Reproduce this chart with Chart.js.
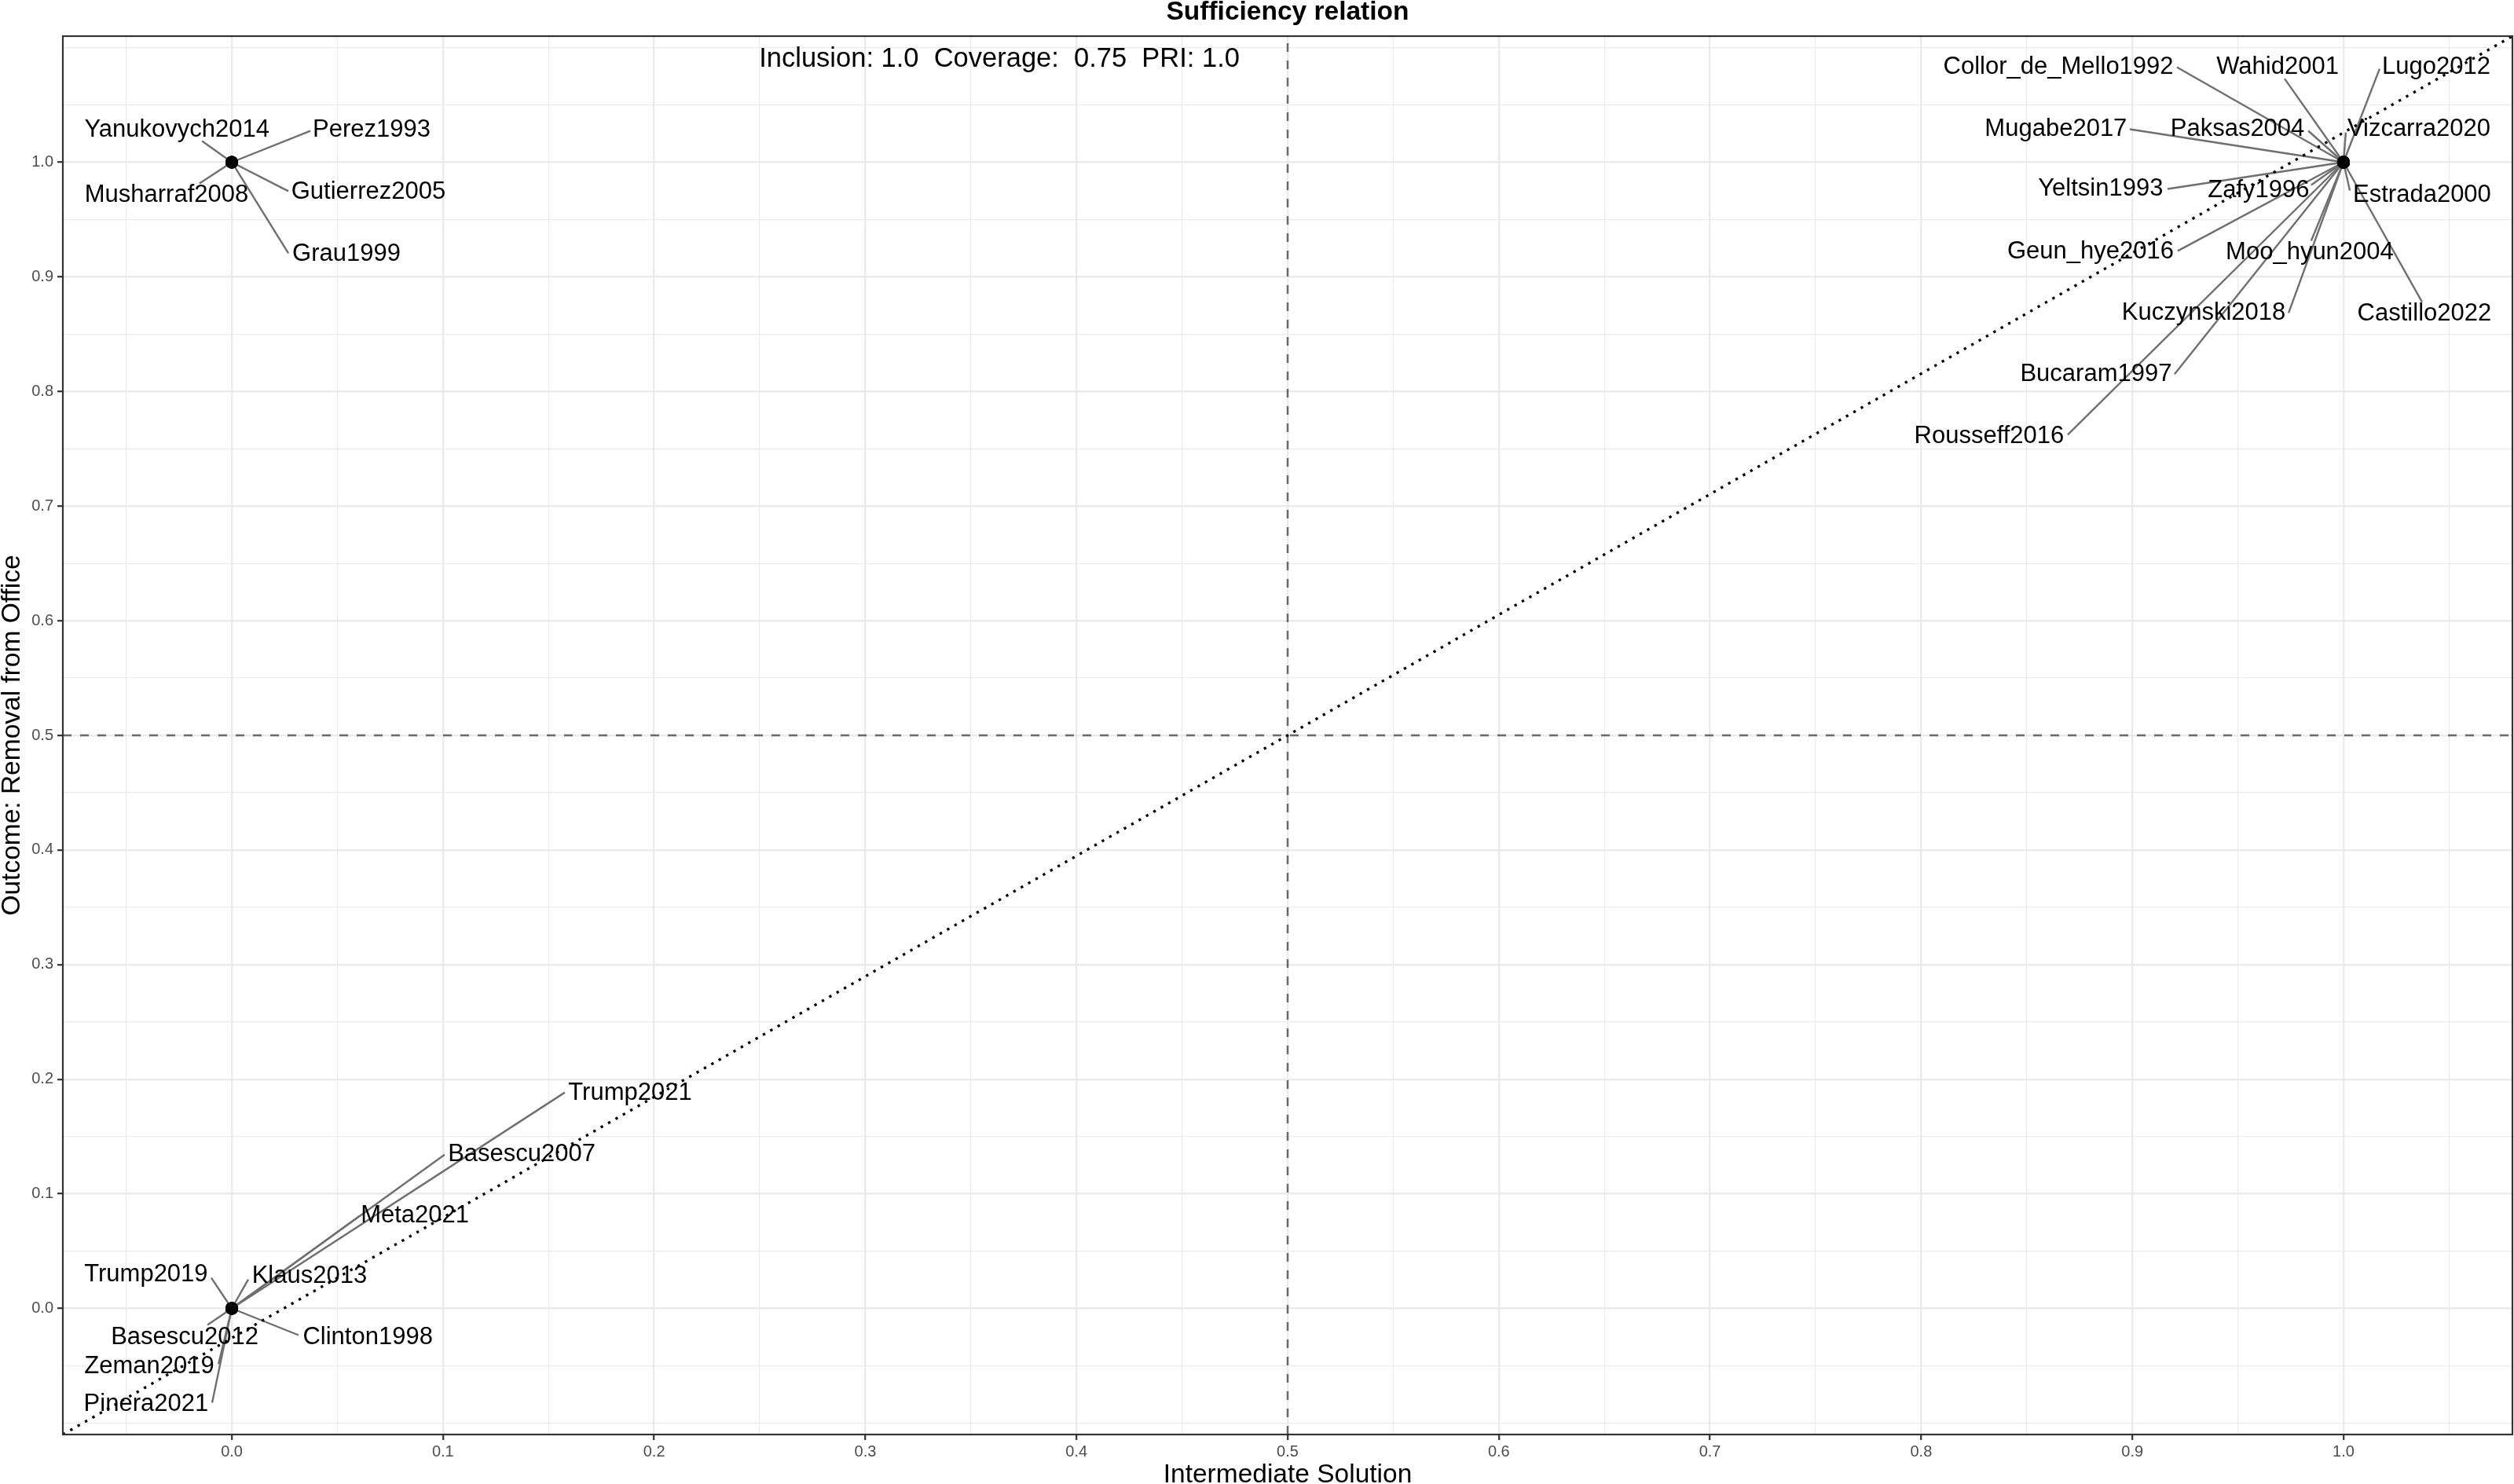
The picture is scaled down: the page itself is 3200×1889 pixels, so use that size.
<!DOCTYPE html>
<html><head><meta charset="utf-8">
<script src="https://cdn.jsdelivr.net/npm/chart.js@4.4.1/dist/chart.umd.min.js"></script>
<style>html,body{margin:0;padding:0;background:#fff;}canvas{display:block;}</style>
</head><body>
<canvas id="c" width="3200" height="1889"></canvas>
<script>
// ---------- data ----------
const caseNames = [
  "Collor_de_Mello1992","Wahid2001","Lugo2012","Mugabe2017","Paksas2004","Vizcarra2020",
  "Yeltsin1993","Zafy1996","Estrada2000","Geun_hye2016","Moo_hyun2004","Castillo2022",
  "Kuczynski2018","Bucaram1997","Rousseff2016",
  "Yanukovych2014","Perez1993","Musharraf2008","Gutierrez2005","Grau1999",
  "Trump2021","Basescu2007","Meta2021","Trump2019","Klaus2013","Basescu2012","Clinton1998","Zeman2019","Pinera2021"
];
const solutionMembership = [1,1,1,1,1,1,1,1,1,1,1,1,1,1,1, 0,0,0,0,0, 0,0,0,0,0,0,0,0,0];
const outcomeMembership  = [1,1,1,1,1,1,1,1,1,1,1,1,1,1,1, 1,1,1,1,1, 0,0,0,0,0,0,0,0,0];

const xTickValues = [0,0.1,0.2,0.3,0.4,0.5,0.6,0.7,0.8,0.9,1.0];
const xTickLabels = ["0.0","0.1","0.2","0.3","0.4","0.5","0.6","0.7","0.8","0.9","1.0"];
const yTickValues = [0,0.1,0.2,0.3,0.4,0.5,0.6,0.7,0.8,0.9,1.0];
const yTickLabels = ["0.0","0.1","0.2","0.3","0.4","0.5","0.6","0.7","0.8","0.9","1.0"];
const xMinorValues = [-0.05,0.05,0.15,0.25,0.35,0.45,0.55,0.65,0.75,0.85,0.95,1.05];
const yMinorValues = [-0.1,-0.05,0.05,0.15,0.25,0.35,0.45,0.55,0.65,0.75,0.85,0.95,1.05,1.1];

const xRange = [-0.08, 1.08];
const yRange = [-0.11, 1.11];
const thresholdX = 0.5, thresholdY = 0.5;

const titleText = "Sufficiency relation";
const fitText = "Inclusion: 1.0  Coverage:  0.75  PRI: 1.0";
const xTitle = "Intermediate Solution";
const yTitle = "Outcome: Removal from Office";

// ---------- label layout (repelled label centres / leader ends, data units) ----------
const labelX = [0.8650,0.9688,1.0439,0.8638,0.9498,1.0357,0.8850,0.9598,1.0372,0.8802,0.9840,1.0383,0.9338,0.8828,0.8322,
  -0.0260,0.0662,-0.0309,0.0647,0.0543, 0.1886,0.1373,0.0867,-0.0406,0.0368,-0.0223,0.0644,-0.0391,-0.0406];
const labelY = [1.0829,1.0829,1.0829,1.0288,1.0288,1.0288,0.9767,0.9753,0.9712,0.9219,0.9212,0.8678,0.8685,0.8151,0.7610,
  1.0281,1.0281,0.9712,0.9740,0.9199, 0.1877,0.1342,0.0808,0.0295,0.0281,-0.0253,-0.0253,-0.0507,-0.0836];
const leaderX = [0.9211,0.9721,1.0171,0.8988,0.9833,1.0011,0.9167,0.9847,1.0030,0.9215,0.9847,1.0372,0.9740,0.9200,0.8694,
  -0.0141,0.0372,-0.0153,0.0268,0.0268, 0.1577,0.1008,0.0606,-0.0097,0.0078,-0.0115,0.0316,-0.0063,-0.0093];
const leaderY = [1.0829,1.0729,1.0815,1.0288,1.0274,1.0260,0.9767,0.9801,0.9753,0.9226,0.9315,0.8781,0.8685,0.8151,0.7623,
  1.0185,1.0274,0.9815,0.9747,0.9205, 0.1884,0.1342,0.0808,0.0267,0.0253,-0.0144,-0.0233,-0.0486,-0.0822];
const fitTextPos = [0.3635, 1.09];

// ---------- helpers ----------
const FONT = "'Liberation Sans', Arial, Helvetica, sans-serif";
const isIn = (v, arr) => arr.some(a => Math.abs(a - v) < 1e-6);
function setTicks(values, minors) {
  return (scale) => {
    const all = values.concat(minors).slice().sort((a,b)=>a-b);
    scale.ticks = all.map(v => ({value: v}));
  };
}
function tickLabel(values, labels) {
  return (v) => { const i = values.findIndex(a => Math.abs(a - v) < 1e-6); return i >= 0 ? labels[i] : ""; };
}

const overlay = {
  id: 'overlay',
  beforeDatasetsDraw(chart) {
    const {ctx, scales:{x, y}, chartArea:a} = chart;
    ctx.save();
    ctx.beginPath(); ctx.rect(a.left, a.top, a.right-a.left, a.bottom-a.top); ctx.clip();
    ctx.strokeStyle = '#6f6f6f'; ctx.lineWidth = 2.4;
    for (let i = 0; i < caseNames.length; i++) {
      ctx.beginPath();
      ctx.moveTo(x.getPixelForValue(solutionMembership[i]), y.getPixelForValue(outcomeMembership[i]));
      ctx.lineTo(x.getPixelForValue(leaderX[i]), y.getPixelForValue(leaderY[i]));
      ctx.stroke();
    }
    ctx.restore();
  },
  afterDatasetsDraw(chart) {
    const {ctx, scales:{x, y}, chartArea:a} = chart;
    ctx.save();
    ctx.beginPath(); ctx.rect(a.left, a.top, a.right-a.left, a.bottom-a.top); ctx.clip();
    ctx.fillStyle = '#000'; ctx.font = `31px ${FONT}`; ctx.textAlign = 'center'; ctx.textBaseline = 'middle';
    for (let i = 0; i < caseNames.length; i++) {
      ctx.fillText(caseNames[i], x.getPixelForValue(labelX[i]), y.getPixelForValue(labelY[i]));
    }
    ctx.font = `34.5px ${FONT}`;
    ctx.fillText(fitText, x.getPixelForValue(fitTextPos[0]), y.getPixelForValue(fitTextPos[1]));
    ctx.restore();
  },
  afterDraw(chart) {
    const {ctx, chartArea:a} = chart;
    ctx.save();
    ctx.strokeStyle = '#333333'; ctx.lineWidth = 2.2;
    ctx.strokeRect(a.left, a.top, a.right - a.left, a.bottom - a.top);
    const cx = (a.left + a.right) / 2;
    ctx.fillStyle = '#000'; ctx.textAlign = 'center'; ctx.textBaseline = 'alphabetic';
    ctx.font = `bold 33.5px ${FONT}`;
    ctx.fillText(titleText, cx, 25);
    ctx.font = `33.5px ${FONT}`;
    ctx.fillText(xTitle, cx, 1887);
    ctx.translate(25, (a.top + a.bottom) / 2);
    ctx.rotate(-Math.PI / 2);
    ctx.fillText(yTitle, 0, 0);
    ctx.restore();
  }
};

const gridCommon = (majors) => ({
  color: '#EBEBEB',
  lineWidth: (c) => (c.tick && isIn(c.tick.value, majors)) ? 2.4 : 1.2,
  tickColor: (c) => (c.tick && isIn(c.tick.value, majors)) ? '#333333' : 'rgba(0,0,0,0)',
  tickWidth: 2.2,
  tickLength: 7,
  drawOnChartArea: true,
  drawTicks: true
});

new Chart(document.getElementById('c'), {
  type: 'scatter',
  data: {
    datasets: [
      { type: 'scatter', label: 'cases', order: 0,
        data: caseNames.map((n, i) => ({x: solutionMembership[i], y: outcomeMembership[i]})),
        pointRadius: 8, pointBackgroundColor: '#000', pointBorderColor: '#000', pointBorderWidth: 0 },
      { type: 'line', label: 'diagonal', order: 1,
        data: [{x: xRange[0], y: yRange[0]}, {x: xRange[1], y: yRange[1]}],
        borderColor: '#000', borderWidth: 3.3, borderDash: [3.3, 7.5], pointRadius: 0, fill: false },
      { type: 'line', label: 'vthreshold', order: 2,
        data: [{x: thresholdX, y: yRange[0]}, {x: thresholdX, y: yRange[1]}],
        borderColor: '#6a6a6a', borderWidth: 2.5, borderDash: [11, 11], pointRadius: 0, fill: false },
      { type: 'line', label: 'hthreshold', order: 3,
        data: [{x: xRange[0], y: thresholdY}, {x: xRange[1], y: thresholdY}],
        borderColor: '#6a6a6a', borderWidth: 2.5, borderDash: [11, 11], pointRadius: 0, fill: false }
    ]
  },
  options: {
    responsive: false, devicePixelRatio: 1, animation: false,
    layout: { autoPadding: false, padding: { left: 0, top: 46, right: 2, bottom: 0 } },
    plugins: { legend: { display: false }, tooltip: { enabled: false }, title: { display: false } },
    scales: {
      x: {
        type: 'linear', min: xRange[0], max: xRange[1],
        afterBuildTicks: setTicks(xTickValues, xMinorValues),
        afterFit: (s) => { s.height = 63; s.paddingLeft = 0; s.paddingRight = 0; },
        grid: gridCommon(xTickValues),
        border: { display: false },
        ticks: { autoSkip: false, maxRotation: 0, minRotation: 0, padding: 3, color: '#4D4D4D',
                 font: { family: FONT, size: 20 }, callback: tickLabel(xTickValues, xTickLabels) }
      },
      y: {
        type: 'linear', min: yRange[0], max: yRange[1],
        afterBuildTicks: setTicks(yTickValues, yMinorValues),
        afterFit: (s) => { s.width = 80; s.paddingTop = 0; s.paddingBottom = 0; },
        grid: gridCommon(yTickValues),
        border: { display: false },
        ticks: { autoSkip: false, padding: 5, color: '#4D4D4D',
                 font: { family: FONT, size: 20 }, callback: tickLabel(yTickValues, yTickLabels) }
      }
    }
  },
  plugins: [overlay]
});
</script>
</body></html>
